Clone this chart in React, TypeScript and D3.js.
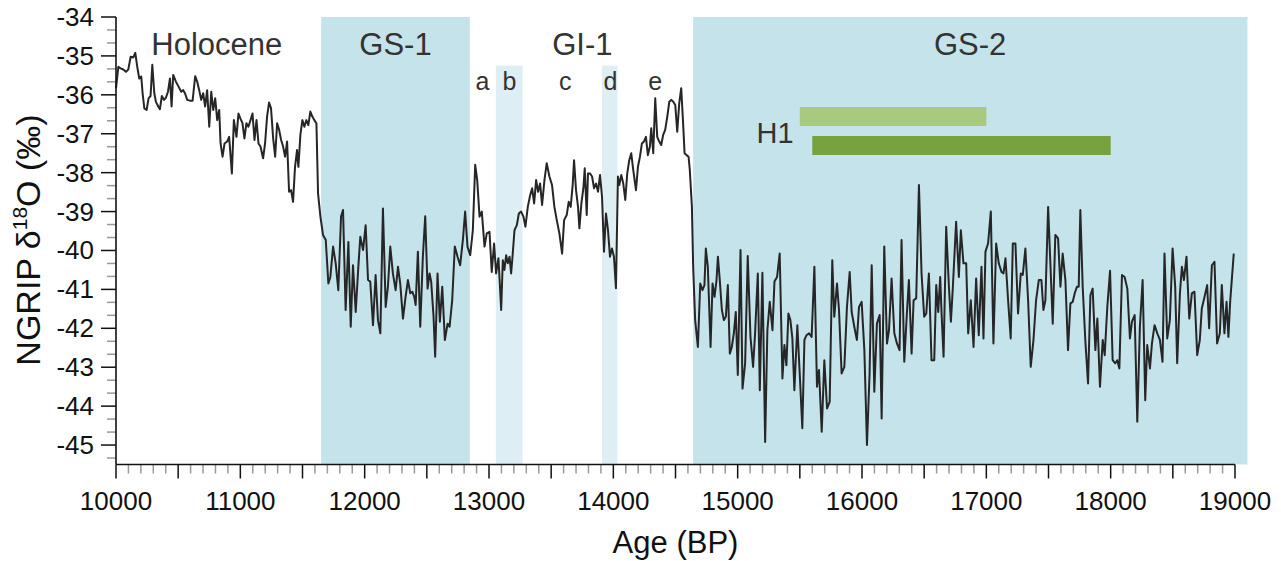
import React from "react";
import * as d3 from "d3";

// ---- Data (Age BP, NGRIP d18O permil) ----
const holoceneData: [number, number][] = [[10000,-35.83],[10019,-35.28],[10037,-35.32],[10059,-35.35],[10080,-35.41],[10099,-35.35],[10118,-35.02],[10139,-35.04],[10155,-34.92],[10171,-35.28],[10187,-35.58],[10203,-35.53],[10214,-35.96],[10228,-36.35],[10246,-36.39],[10262,-36.09],[10278,-36.03],[10292,-35.23],[10308,-35.96],[10321,-36.18],[10340,-36.30],[10353,-36.37],[10369,-36.03],[10386,-36.13],[10402,-36.07],[10418,-35.92],[10434,-35.58],[10447,-36.30],[10460,-35.49],[10482,-35.66],[10503,-35.79],[10525,-35.92],[10541,-35.88],[10557,-35.98],[10573,-36.13],[10594,-36.15],[10616,-36.15],[10637,-35.52],[10653,-35.66],[10669,-35.88],[10685,-36.13],[10701,-35.96],[10717,-36.30],[10733,-35.88],[10750,-36.82],[10766,-35.92],[10782,-36.39],[10798,-36.09],[10814,-36.65],[10830,-36.39],[10841,-37.25],[10857,-37.59],[10873,-37.25],[10894,-37.20],[10910,-37.08],[10932,-38.02],[10948,-36.65],[10969,-37.08],[10985,-36.48],[11001,-36.61],[11017,-36.73],[11033,-37.12],[11049,-36.73],[11065,-36.82],[11082,-36.65],[11098,-36.48],[11114,-37.16],[11130,-36.65],[11146,-37.25],[11162,-37.33],[11183,-37.63],[11199,-37.25],[11215,-36.56],[11231,-36.20],[11247,-36.35],[11264,-37.12],[11280,-37.59],[11296,-36.73],[11312,-36.90],[11328,-37.16],[11344,-37.33],[11360,-37.59],[11376,-37.20],[11392,-38.49],[11408,-38.45],[11424,-38.75],[11440,-37.85],[11456,-37.42],[11467,-37.85],[11483,-37.03],[11499,-36.65],[11515,-36.82],[11531,-36.65],[11547,-36.78],[11563,-36.43],[11579,-36.56],[11595,-36.65],[11612,-36.73]];

const gs1Data: [number, number][] = [[11625,-38.53],[11644,-39.13],[11665,-39.60],[11687,-39.73],[11708,-40.85],[11724,-40.68],[11746,-39.90],[11767,-40.33],[11788,-41.02],[11810,-39.13],[11826,-38.96],[11847,-41.53],[11869,-39.78],[11888,-41.96],[11906,-40.38],[11928,-41.58],[11949,-40.42],[11965,-39.65],[11987,-39.99],[12008,-39.35],[12027,-40.76],[12045,-40.80],[12067,-41.92],[12088,-40.63],[12107,-41.79],[12126,-42.13],[12147,-38.92],[12169,-41.45],[12187,-40.93],[12206,-39.90],[12227,-40.59],[12249,-41.02],[12268,-40.42],[12286,-40.85],[12308,-41.75],[12329,-41.19],[12348,-40.76],[12367,-41.10],[12383,-41.06],[12399,-41.19],[12410,-41.40],[12428,-40.03],[12447,-41.96],[12468,-40.16],[12487,-39.12],[12506,-40.98],[12522,-40.59],[12535,-40.80],[12554,-41.70],[12567,-42.73],[12586,-40.59],[12605,-41.83],[12624,-40.93],[12645,-42.30],[12667,-41.88],[12683,-41.96],[12704,-41.28],[12725,-39.90],[12747,-40.16],[12768,-40.38],[12790,-39.73],[12808,-39.00],[12827,-39.90],[12849,-40.12]];

const gi1Data: [number, number][] = [[12870,-39.48],[12889,-37.80],[12905,-38.19],[12924,-39.13],[12942,-39.00],[12964,-39.90],[12982,-39.56],[13004,-39.52],[13022,-40.55],[13041,-39.82],[13057,-40.59],[13076,-40.20],[13098,-41.53],[13111,-40.25],[13124,-40.50],[13138,-40.12],[13151,-40.33],[13165,-40.16],[13178,-40.59],[13191,-40.08],[13205,-39.48],[13224,-39.35],[13240,-39.05],[13258,-39.00],[13277,-39.13],[13293,-39.39],[13312,-38.88],[13331,-38.58],[13347,-38.40],[13363,-38.79],[13379,-38.19],[13395,-38.49],[13411,-38.28],[13427,-38.83],[13446,-38.19],[13464,-37.76],[13486,-38.10],[13507,-38.32],[13526,-38.88],[13545,-39.22],[13566,-39.56],[13588,-40.08],[13604,-39.22],[13625,-39.09],[13641,-38.75],[13657,-38.88],[13673,-38.32],[13684,-37.68],[13700,-38.45],[13716,-38.88],[13727,-39.43],[13743,-38.79],[13759,-38.40],[13770,-37.89],[13786,-39.09],[13796,-38.02],[13812,-38.02],[13829,-38.10],[13845,-38.40],[13861,-38.28],[13877,-38.49],[13893,-38.06],[13909,-38.62],[13925,-40.03],[13941,-39.05],[13957,-39.48],[13973,-40.16],[13989,-39.95],[14005,-40.16],[14021,-40.97],[14037,-38.10],[14048,-38.32],[14064,-38.06],[14080,-38.28],[14096,-38.70],[14112,-38.02],[14128,-37.68],[14144,-37.50],[14160,-37.93],[14182,-38.45],[14198,-37.85],[14214,-37.59],[14230,-37.25],[14246,-37.20],[14262,-37.08],[14278,-37.55],[14294,-37.33],[14305,-36.86],[14321,-37.50],[14337,-36.09],[14353,-37.08],[14369,-37.20],[14385,-37.29],[14401,-37.03],[14417,-36.90],[14434,-36.56],[14450,-36.18],[14466,-36.13],[14482,-36.18],[14498,-36.26],[14514,-36.95],[14530,-36.22],[14546,-35.83],[14562,-36.78],[14573,-37.50],[14589,-37.55],[14605,-37.59],[14615,-37.93],[14632,-38.88]];

const gs2Data: [number, number][] = [[14642,-40.42],[14658,-41.79],[14680,-42.48],[14699,-40.85],[14717,-41.02],[14733,-40.89],[14744,-39.95],[14760,-40.42],[14782,-42.48],[14798,-40.85],[14814,-41.19],[14830,-40.76],[14841,-40.16],[14857,-40.80],[14873,-41.53],[14889,-41.79],[14905,-41.70],[14921,-40.89],[14937,-42.65],[14953,-42.48],[14969,-42.13],[14985,-41.58],[15001,-43.20],[15023,-39.99],[15039,-43.55],[15060,-42.90],[15081,-40.14],[15103,-42.22],[15124,-42.99],[15140,-42.13],[15162,-40.59],[15178,-43.59],[15199,-40.57],[15221,-44.92],[15239,-42.05],[15258,-41.32],[15280,-42.05],[15296,-40.80],[15317,-40.68],[15338,-40.08],[15360,-43.29],[15376,-42.43],[15392,-42.95],[15408,-41.62],[15424,-41.79],[15440,-42.26],[15456,-43.59],[15480,-41.92],[15499,-43.16],[15520,-44.57],[15537,-42.30],[15553,-42.18],[15574,-42.13],[15595,-42.22],[15617,-40.42],[15638,-43.50],[15654,-43.07],[15676,-44.66],[15697,-42.82],[15719,-44.06],[15740,-43.89],[15761,-40.25],[15777,-41.70],[15799,-40.85],[15815,-41.53],[15836,-43.16],[15858,-42.99],[15879,-41.45],[15901,-40.55],[15917,-41.58],[15938,-41.96],[15959,-42.30],[15976,-41.45],[15997,-41.32],[16019,-42.56],[16040,-45.00],[16061,-43.16],[16078,-40.38],[16099,-43.63],[16120,-41.88],[16142,-41.66],[16158,-44.32],[16179,-39.90],[16201,-42.39],[16217,-42.05],[16238,-40.72],[16260,-42.13],[16281,-42.39],[16302,-42.56],[16318,-39.73],[16340,-42.86],[16361,-41.62],[16377,-40.76],[16399,-42.65],[16415,-41.28],[16436,-41.23],[16458,-38.32],[16479,-40.59],[16500,-41.70],[16517,-41.62],[16538,-40.59],[16559,-42.82],[16581,-42.82],[16597,-40.89],[16613,-41.58],[16629,-40.68],[16640,-41.62],[16656,-42.73],[16677,-39.39],[16699,-40.93],[16715,-41.83],[16731,-40.93],[16757,-39.26],[16779,-40.68],[16795,-39.48],[16816,-40.33],[16838,-40.33],[16854,-42.13],[16875,-41.28],[16897,-42.48],[16918,-40.72],[16939,-42.18],[16961,-40.42],[16977,-42.26],[16993,-40.03],[17014,-39.82],[17036,-39.00],[17057,-42.39],[17079,-39.82],[17100,-40.33],[17122,-40.55],[17138,-40.59],[17154,-40.20],[17175,-41.28],[17196,-42.26],[17213,-39.82],[17234,-39.82],[17255,-41.62],[17277,-40.59],[17293,-40.63],[17314,-39.95],[17336,-41.28],[17357,-42.99],[17379,-42.30],[17400,-41.28],[17422,-40.76],[17443,-40.76],[17459,-41.53],[17475,-41.28],[17497,-38.88],[17515,-40.33],[17534,-41.88],[17555,-39.60],[17577,-39.69],[17596,-40.93],[17614,-40.08],[17636,-40.76],[17657,-42.56],[17676,-41.36],[17695,-41.32],[17711,-41.10],[17729,-40.93],[17743,-40.93],[17756,-38.96],[17775,-40.93],[17796,-42.30],[17818,-43.42],[17837,-41.15],[17855,-40.98],[17877,-42.56],[17893,-41.75],[17914,-43.50],[17936,-42.30],[17952,-42.69],[17973,-41.45],[17995,-40.52],[18016,-42.82],[18037,-42.90],[18053,-42.82],[18070,-43.03],[18091,-40.63],[18112,-40.68],[18134,-40.98],[18155,-42.26],[18171,-41.83],[18193,-41.66],[18214,-44.40],[18235,-41.96],[18257,-40.76],[18278,-43.85],[18294,-42.43],[18316,-43.03],[18332,-42.39],[18353,-41.92],[18375,-42.13],[18396,-42.30],[18417,-42.86],[18433,-40.08],[18455,-42.26],[18476,-41.79],[18498,-39.95],[18519,-40.93],[18535,-42.90],[18557,-41.10],[18573,-40.42],[18589,-40.76],[18610,-40.16],[18632,-41.75],[18653,-41.10],[18674,-41.06],[18696,-42.69],[18717,-42.30],[18733,-41.49],[18755,-41.19],[18776,-40.89],[18792,-42.00],[18814,-40.38],[18835,-40.29],[18856,-42.39],[18878,-42.13],[18894,-40.89],[18915,-42.13],[18932,-41.32],[18947,-42.22],[18961,-41.32],[18990,-40.08]];

// Stadial bands (full height), and GI-1 sub-event bands
const stadials = [
  { label: "GS-1", start: 11650, end: 12846 },
  { label: "GS-2", start: 14642, end: 19100 },
];
const subBands = [
  { start: 13055, end: 13270 },
  { start: 13908, end: 14033 },
];
const periodLabels = [
  { text: "Holocene", age: 10811 },
  { text: "GS-1", age: 12248 },
  { text: "GI-1", age: 13751 },
  { text: "GS-2", age: 16870 },
];
const subLabels = [
  { text: "a", age: 12948 },
  { text: "b", age: 13165 },
  { text: "c", age: 13614 },
  { text: "d", age: 13976 },
  { text: "e", age: 14337 },
];
// H1 bars (age ranges)
const h1Bars = [
  { start: 15500, end: 17000, color: "#a8ca7e" },
  { start: 15600, end: 18000, color: "#78a23f" },
];
const yTicks = [-34, -35, -36, -37, -38, -39, -40, -41, -42, -43, -44, -45];
const xLabelTicks = [10000, 11000, 12000, 13000, 14000, 15000, 16000, 17000, 18000, 19000];

const W = 1281;
const H = 561;
const FONT = "'Liberation Sans', Arial, Helvetica, sans-serif";

export default function App() {
  const x = d3.scaleLinear().domain([10000, 19000]).range([116, 1235]);
  const y = d3.scaleLinear().domain([-45.5, -34]).range([464.5, 17]);
  const all = [...holoceneData, ...gs1Data, ...gi1Data, ...gs2Data];
  const line = d3
    .line<[number, number]>()
    .x((d) => x(d[0]))
    .y((d) => y(d[1]));

  const x0 = x(10000);
  const yAxisY = y(-45.5);
  const yTop = y(-34);

  const xMajor = d3.range(10000, 19001, 500);
  const xMinor = d3.range(10000, 19001, 100).filter((v) => v % 500 !== 0);
  const yMinor: number[] = [];
  for (let v = -34; v >= -45.4; v -= 1) {
    yMinor.push(v - 1 / 3, v - 2 / 3);
  }
  const yMinorF = yMinor.filter((v) => v > -45.5);

  return (
    <div style={{ position: "absolute", left: 0, top: 0 }}>
      <svg width={W} height={H} style={{ display: "block", background: "#fff" }} fontFamily={FONT}>
        {/* bands */}
        {stadials.map((b) => (
          <rect key={b.label} x={x(b.start)} y={yTop} width={x(b.end) - x(b.start)} height={yAxisY - yTop} fill="#c5e3ea" />
        ))}
        {subBands.map((b, i) => (
          <rect key={i} x={x(b.start)} y={y(-35.25)} width={x(b.end) - x(b.start)} height={yAxisY - y(-35.25)} fill="#ddeff4" />
        ))}
        {/* H1 bars */}
        <rect x={x(h1Bars[0].start)} y={107} width={x(h1Bars[0].end) - x(h1Bars[0].start)} height={19} fill={h1Bars[0].color} />
        <rect x={x(h1Bars[1].start)} y={136} width={x(h1Bars[1].end) - x(h1Bars[1].start)} height={19} fill={h1Bars[1].color} />
        <text x={775} y={133} fontSize={29} fill="#333" textAnchor="middle" dominantBaseline="central">H1</text>

        {/* labels */}
        {periodLabels.map((p) => (
          <text key={p.text} x={x(p.age)} y={44} fontSize={31} fill="#333" textAnchor="middle" dominantBaseline="central">
            {p.text}
          </text>
        ))}
        {subLabels.map((p) => (
          <text key={p.text} x={x(p.age)} y={81} fontSize={25} fill="#333" textAnchor="middle" dominantBaseline="central">
            {p.text}
          </text>
        ))}

        {/* data line */}
        <path d={line(all) || ""} fill="none" stroke="#262626" strokeWidth={2} strokeLinejoin="round" />

        {/* y axis */}
        {yMinorF.map((v, i) => (
          <line key={"ym" + i} x1={x0 - 9} x2={x0} y1={y(v)} y2={y(v)} stroke="#999" strokeWidth={1.5} />
        ))}
        {yTicks.map((v) => (
          <g key={"yt" + v}>
            <line x1={x0 - 15} x2={x0} y1={y(v)} y2={y(v)} stroke="#111" strokeWidth={1.5} />
            <text x={x0 - 22} y={y(v)} fontSize={26} fill="#111" textAnchor="end" dominantBaseline="central">
              {v}
            </text>
          </g>
        ))}
        <line x1={x0} x2={x0} y1={yTop} y2={yAxisY} stroke="#111" strokeWidth={1.6} />

        {/* x axis */}
        {xMinor.map((v) => (
          <line key={"xm" + v} x1={x(v)} x2={x(v)} y1={yAxisY} y2={yAxisY + 9} stroke="#999" strokeWidth={1.5} />
        ))}
        {xMajor.map((v) => (
          <line key={"xM" + v} x1={x(v)} x2={x(v)} y1={yAxisY} y2={yAxisY + 14} stroke="#111" strokeWidth={1.5} />
        ))}
        {xLabelTicks.map((v) => (
          <text key={"xl" + v} x={x(v)} y={501} fontSize={26} fill="#111" textAnchor="middle" dominantBaseline="central">
            {v}
          </text>
        ))}
        <line x1={x0} x2={x(19000)} y1={yAxisY} y2={yAxisY} stroke="#111" strokeWidth={1.6} />

        {/* axis titles */}
        <text x={(x(10000) + x(19000)) / 2} y={542} fontSize={31} fill="#111" textAnchor="middle" dominantBaseline="central">
          Age (BP)
        </text>
        <text transform="translate(40,240) rotate(-90)" fontSize={34} fill="#111" textAnchor="middle">
          NGRIP δ<tspan fontSize={21} dy={-13}>18</tspan>
          <tspan dy={13}>O (‰)</tspan>
        </text>
      </svg>
    </div>
  );
}
